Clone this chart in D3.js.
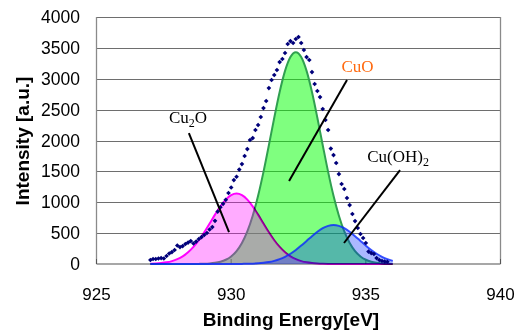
<!DOCTYPE html>
<html>
<head>
<meta charset="utf-8">
<script src="https://cdn.jsdelivr.net/npm/d3@7"></script>
<style>
  body { margin: 0; background: #fff; }
  svg { display: block; }
</style>
</head>
<body>
<svg id="chart" width="516" height="332"></svg>
<script>
// axis ticks
let xTicks = [925, 930, 935, 940];
let yTicks = [0, 500, 1000, 1500, 2000, 2500, 3000, 3500, 4000];

// measured spectrum, 927.0 .. 935.8 eV in 0.1 eV steps
let measStart = 927.0;
let measStep = 0.1;
let measured = [65, 81, 81, 89, 97, 90, 130, 170, 194, 227,
    300, 275, 291, 324, 348, 372, 332, 364, 405, 437,
    470, 502, 559, 599, 700, 850, 920, 975, 1040, 1150,
    1239, 1360, 1414, 1530, 1619, 1749, 1862, 2008, 2040, 2170,
    2251, 2381, 2526, 2640, 2850, 2980, 3061, 3142, 3271, 3320,
    3417, 3563, 3611, 3579, 3644, 3676, 3579, 3466, 3352, 3304,
    3109, 2915, 2802, 2704, 2510, 2332, 2170, 1870, 1765, 1636,
    1457, 1296, 1215, 1069, 955, 810, 696, 583, 486, 421,
    340, 202, 178, 162, 97, 65, 49, 40, 37];

// fitted components, 927.0 .. 936.0 eV in 0.2 eV steps
let fitStart = 927.0;
let fitStep = 0.2;
let cu2o = [4, 8, 15, 27, 47, 78, 124, 189, 276, 385,
    513, 655, 800, 934, 1043, 1115, 1140, 1115, 1043, 934,
    800, 655, 513, 385, 276, 189, 124, 78, 47, 27,
    15, 8, 4, 2, 1, 0, 0, 0, 0, 0,
    0, 0, 0, 0, 0, 0];
let cuo = [0, 0, 0, 0, 0, 0, 0, 0, 1, 2,
    4, 9, 19, 37, 69, 123, 209, 340, 527, 781,
    1105, 1492, 1924, 2369, 2786, 3127, 3351, 3430, 3351, 3127,
    2786, 2369, 1924, 1492, 1105, 781, 527, 340, 209, 123,
    69, 37, 19, 9, 4, 2];
let cuoh2 = [0, 0, 0, 0, 0, 0, 0, 0, 0, 0,
    0, 0, 0, 0, 0, 0, 1, 2, 3, 6,
    11, 19, 31, 51, 79, 117, 166, 227, 298, 374,
    451, 522, 580, 617, 630, 617, 580, 522, 451, 374,
    298, 227, 166, 117, 79, 51];

// label text / anchor (eV, intensity) / leader line ends
let labelNames = ["Cu2O", "CuO", "Cu(OH)2"];
let labelPos = [[928.4, 2283], [934.69, 3109], [936.2, 1650]];
let leaderFrom = [[928.43, 2121], [934.30, 2980], [936.27, 1522]];
let leaderTo = [[929.92, 518], [932.15, 1344], [934.19, 340]];

let svg = d3.select("#chart");

let x = d3.scaleLinear().domain([925, 940]).range([96.5, 500.5]);
let y = d3.scaleLinear().domain([0, 4000]).range([264, 17]);

let fitRows = function (vals) {
    return vals.map(function (v, i) {
        return { e: fitStart + i * fitStep, v: v };
    });
};

// gridlines
svg.append("g")
    .selectAll("line")
    .data(yTicks.slice(1))
    .enter()
    .append("line")
    .attr("x1", x(925))
    .attr("x2", x(940))
    .attr("y1", function (d) { return Math.round(y(d)) + 0.5; })
    .attr("y2", function (d) { return Math.round(y(d)) + 0.5; })
    .attr("stroke", "#6e6e6e")
    .attr("stroke-width", 1);

// plot frame (left, bottom, right)
let frame = svg.append("g").attr("stroke", "#8a8a8a").attr("stroke-width", 1.3).attr("fill", "none");
frame.append("line").attr("x1", x(925)).attr("x2", x(925)).attr("y1", y(4000)).attr("y2", y(0));
frame.append("line").attr("x1", x(940)).attr("x2", x(940)).attr("y1", y(4000)).attr("y2", y(0));
frame.append("line").attr("x1", x(925)).attr("x2", x(940)).attr("y1", y(0)).attr("y2", y(0));

// x ticks point inward
svg.append("g")
    .selectAll("line")
    .data(xTicks)
    .enter()
    .append("line")
    .attr("x1", function (d) { return x(d); })
    .attr("x2", function (d) { return x(d); })
    .attr("y1", y(0))
    .attr("y2", y(0) - 5)
    .attr("stroke", "#555");

let area = d3.area()
    .x(function (d) { return x(d.e); })
    .y0(y(0))
    .y1(function (d) { return y(d.v); })
    .curve(d3.curveMonotoneX);

let line = d3.line()
    .x(function (d) { return x(d.e); })
    .y(function (d) { return y(d.v); })
    .curve(d3.curveMonotoneX);

// CuO first, then Cu2O and Cu(OH)2 on top
svg.append("path").datum(fitRows(cuo))
    .attr("d", area)
    .attr("fill", "rgb(0,255,0)")
    .attr("fill-opacity", 0.5);
svg.append("path").datum(fitRows(cuo))
    .attr("d", line)
    .attr("fill", "none")
    .attr("stroke", "#30a050")
    .attr("stroke-width", 2);

svg.append("path").datum(fitRows(cu2o))
    .attr("d", area)
    .attr("fill", "rgb(255,0,255)")
    .attr("fill-opacity", 0.33);
svg.append("path").datum(fitRows(cu2o))
    .attr("d", line)
    .attr("fill", "none")
    .attr("stroke", "#ff00ff")
    .attr("stroke-width", 2)
    .style("mix-blend-mode", "multiply");

svg.append("path").datum(fitRows(cuoh2))
    .attr("d", area)
    .attr("fill", "rgb(0,40,255)")
    .attr("fill-opacity", 0.33);
svg.append("path").datum(fitRows(cuoh2))
    .attr("d", line)
    .attr("fill", "none")
    .attr("stroke", "#0a28ff")
    .attr("stroke-opacity", 0.8)
    .attr("stroke-width", 2);

// measured points (small diamonds)
svg.append("g")
    .selectAll("rect")
    .data(measured)
    .enter()
    .append("rect")
    .attr("width", 3.3)
    .attr("height", 3.3)
    .attr("fill", "#00007a")
    .attr("transform", function (d, i) {
        let px = x(measStart + i * measStep);
        let py = y(d);
        return "translate(" + px + "," + (py - 2.3) + ") rotate(45)";
    });

// leader lines
svg.append("g")
    .selectAll("line")
    .data(labelNames)
    .enter()
    .append("line")
    .attr("x1", function (d, i) { return x(leaderFrom[i][0]); })
    .attr("y1", function (d, i) { return y(leaderFrom[i][1]); })
    .attr("x2", function (d, i) { return x(leaderTo[i][0]); })
    .attr("y2", function (d, i) { return y(leaderTo[i][1]); })
    .attr("stroke", "#000")
    .attr("stroke-width", 2);

// labels, the 2 is a subscript
let labels = svg.append("g")
    .attr("font-family", "'Liberation Serif', 'Times New Roman', serif")
    .attr("font-size", 17)
    .attr("text-anchor", "middle");

labelNames.forEach(function (name, i) {
    let t = labels.append("text")
        .attr("x", x(labelPos[i][0]))
        .attr("y", y(labelPos[i][1]))
        .attr("fill", name === "CuO" ? "#ff6a10" : "#000");
    if (name === "Cu2O") {
        t.append("tspan").text("Cu");
        t.append("tspan").text("2").attr("font-size", 12).attr("dy", 4);
        t.append("tspan").text("O").attr("dy", -4);
    } else if (name === "Cu(OH)2") {
        t.append("tspan").text("Cu(OH)");
        t.append("tspan").text("2").attr("font-size", 12).attr("dy", 4);
    } else {
        t.text(name);
    }
});

// tick labels
svg.append("g")
    .attr("font-family", "'Liberation Sans', Arial, sans-serif")
    .attr("font-size", 17.5)
    .attr("text-anchor", "end")
    .selectAll("text")
    .data(yTicks)
    .enter()
    .append("text")
    .attr("x", 80)
    .attr("y", function (d) { return y(d) + 6; })
    .text(function (d) { return d; });

svg.append("g")
    .attr("font-family", "'Liberation Sans', Arial, sans-serif")
    .attr("font-size", 17)
    .attr("text-anchor", "middle")
    .selectAll("text")
    .data(xTicks)
    .enter()
    .append("text")
    .attr("x", function (d) { return x(d); })
    .attr("y", 300)
    .text(function (d) { return d; });

// axis titles
svg.append("text")
    .attr("x", 291)
    .attr("y", 326)
    .attr("text-anchor", "middle")
    .attr("font-family", "'Liberation Sans', Arial, sans-serif")
    .attr("font-weight", "bold")
    .attr("font-size", 19)
    .text("Binding Energy[eV]");

svg.append("text")
    .attr("transform", "translate(29,141) rotate(-90)")
    .attr("text-anchor", "middle")
    .attr("font-family", "'Liberation Sans', Arial, sans-serif")
    .attr("font-weight", "bold")
    .attr("font-size", 19)
    .text("Intensity [a.u.]");
</script>
</body>
</html>
